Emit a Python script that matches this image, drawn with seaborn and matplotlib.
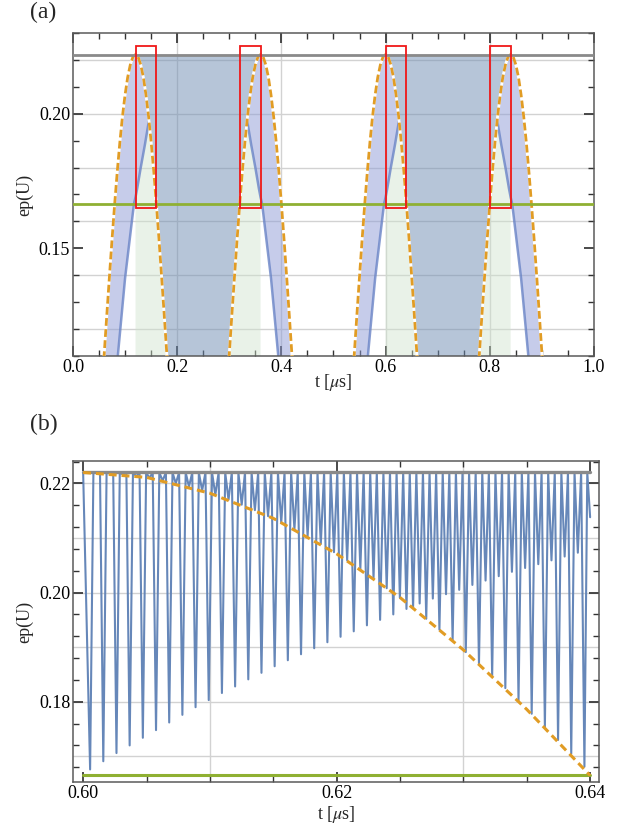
import matplotlib
matplotlib.use("Agg")
import matplotlib.pyplot as plt
from matplotlib.patches import Rectangle
from matplotlib.ticker import MultipleLocator, FormatStrFormatter
import seaborn as sns

# --- levels ---
EP_MAX = 0.222      # gray line
EP_MIN = 0.1665     # green line

# orange dashed arch: half profile, offset from the arch top (same shape for every arch)
arch_dt = [0.000, 0.005, 0.010, 0.015, 0.020, 0.025, 0.030, 0.035, 0.040, 0.045, 0.050, 0.055, 0.060, 0.065]
arch_ep = [0.2220, 0.2211, 0.2182, 0.2136, 0.2071, 0.1991, 0.1895, 0.1786, 0.1665, 0.1535, 0.1397, 0.1255, 0.1110, 0.0965]
arch_tops = [0.12, 0.36, 0.60, 0.84]
arch_side = [1, -1, 1, -1]          # -1: blue envelope mirrored (falling side)

# blue envelope of panel (a), rising into an arch (offset from the arch top)
rise_dt = [-0.040, -0.034, -0.020, -0.003, 0.000, 0.003, 0.010, 0.018, 0.0258]
rise_ep = [0.0990, 0.1100, 0.1390, 0.1665, 0.1690, 0.1720, 0.1800, 0.1885, 0.1975]

green_bands = [(0.12, 0.36), (0.60, 0.84)]
box_t0 = [0.12, 0.32, 0.60, 0.80]
box_w = 0.04
box_ep = (0.1650, 0.2250)

# panel (b): the two families of minima of the fast oscillation
osc_a_t = [0.60055, 0.60159, 0.60263, 0.60367, 0.60471, 0.60575, 0.60679, 0.60783, 0.60887, 0.60991,
           0.61095, 0.61199, 0.61303, 0.61407, 0.61511, 0.61615, 0.61719, 0.61823, 0.61927, 0.62031,
           0.62135, 0.62239, 0.62343, 0.62447, 0.62551, 0.62655, 0.62759, 0.62863, 0.62967, 0.63071,
           0.63175, 0.63279, 0.63383, 0.63487, 0.63591, 0.63695, 0.63799, 0.63903]
osc_a_ep = [0.1676, 0.1691, 0.1706, 0.1720, 0.1734, 0.1748, 0.1762, 0.1776, 0.1790, 0.1803,
            0.1816, 0.1828, 0.1841, 0.1853, 0.1865, 0.1876, 0.1887, 0.1898, 0.1909, 0.1919,
            0.1929, 0.1940, 0.1950, 0.1960, 0.1970, 0.1980, 0.1989, 0.1997, 0.2005, 0.2014,
            0.2022, 0.2030, 0.2038, 0.2045, 0.2052, 0.2059, 0.2066, 0.2073]
osc_b_t = [0.60107, 0.60211, 0.60315, 0.60419, 0.60523, 0.60627, 0.60731, 0.60835, 0.60939, 0.61043,
           0.61147, 0.61251, 0.61355, 0.61459, 0.61563, 0.61667, 0.61771, 0.61875, 0.61979, 0.62083,
           0.62187, 0.62291, 0.62395, 0.62499, 0.62603, 0.62707, 0.62811, 0.62915, 0.63019, 0.63123,
           0.63227, 0.63331, 0.63435, 0.63539, 0.63643, 0.63747, 0.63851, 0.63955]
osc_b_ep = [0.2220, 0.2218, 0.2216, 0.2213, 0.2210, 0.2205, 0.2200, 0.2194, 0.2187, 0.2179,
            0.2170, 0.2161, 0.2151, 0.2140, 0.2128, 0.2116, 0.2103, 0.2089, 0.2074, 0.2059,
            0.2043, 0.2026, 0.2008, 0.1990, 0.1972, 0.1952, 0.1932, 0.1912, 0.1891, 0.1869,
            0.1847, 0.1825, 0.1802, 0.1778, 0.1754, 0.1730, 0.1705, 0.1681]
osc_start = (0.600, 0.2220)
osc_end = (0.640, 0.2138)

# --- colours (Mathematica default palette) ---
BLUE, ORANGE, GREEN = "#5e81b5", "#e19c24", "#8fb032"
GRAY, GRID, FRAME = "#8a8a8a", "#d2d2d2", "#5a5a5a"
LAVENDER, STEEL, MINT = "#8e9bd6", "#6f8db3", "#cfe3cc"
FS = 13

sns.set_theme(style="ticks")
plt.rcParams.update({
    "font.family": ["Liberation Serif", "DejaVu Serif"], "mathtext.fontset": "stix",
    "font.size": FS, "axes.edgecolor": FRAME, "axes.linewidth": 1.1,
    "xtick.direction": "in", "ytick.direction": "in", "xtick.top": True, "ytick.right": True,
    "xtick.major.size": 7, "ytick.major.size": 7, "xtick.minor.size": 4, "ytick.minor.size": 4,
    "xtick.major.pad": 2.5, "ytick.major.pad": 2.0,
    "xtick.color": "#333333", "ytick.color": "#333333", "xtick.labelcolor": "black",
    "ytick.labelcolor": "black", "xtick.labelsize": FS, "ytick.labelsize": FS,
})

full_dt = [-d for d in arch_dt[:0:-1]] + arch_dt
full_ep = arch_ep[:0:-1] + arch_ep


def orange_part(c, s, lo, hi):
    sel = [(d, e) for d, e in zip(full_dt, full_ep) if lo - 1e-9 <= d <= hi + 1e-9]
    return [c + s * d for d, _ in sel], [e for _, e in sel]


def rise_part(c, s, lo=-1.0):
    sel = [(d, e) for d, e in zip(rise_dt, rise_ep) if d >= lo - 1e-9]
    return [c + s * d for d, _ in sel], [e for _, e in sel]


def frame(ax, xlim, ylim, grid_t, grid_ep):
    ax.set_xlim(*xlim); ax.set_ylim(*ylim)
    for g in grid_t:
        ax.axvline(g, color=GRID, lw=1.0, zorder=0)
    for g in grid_ep:
        ax.axhline(g, color=GRID, lw=1.0, zorder=0)
    ax.set_ylabel("ep(U)", fontsize=FS)
    ax.set_xlabel(r"t [$\mu$s]", fontsize=FS)
    for sp in ax.spines.values():
        sp.set_visible(True)


fig = plt.figure(figsize=(6.32, 8.30), dpi=100)
ax_a = fig.add_axes([73 / 632, 1 - 356 / 830, 521 / 632, 323 / 830])
ax_b = fig.add_axes([73 / 632, 1 - 782 / 830, 526 / 632, 321 / 830])

# ---------------- panel (a) ----------------
frame(ax_a, (0.0, 1.0), (0.11, 0.23), [0.2, 0.4, 0.6, 0.8], [0.12, 0.14, 0.16, 0.18, 0.20, 0.22])

# lavender: between the blue envelope and the arch above it
for c, s in zip(arch_tops, arch_side):
    ot, oe = orange_part(c, s, -0.065, 0.025)
    bt, be = rise_part(c, s)
    ax_a.fill(ot + bt[::-1], oe + be[::-1], color=LAVENDER, alpha=0.5, lw=0, zorder=1)

for c1, c2 in green_bands:
    o1t, o1e = orange_part(c1, 1, 0.0, 0.065)
    o2t, o2e = orange_part(c2, -1, 0.0, 0.065)
    # steel: above the arches up to the gray level, between two arch tops
    ax_a.fill(o2t + o1t[::-1], o2e + o1e[::-1], color=STEEL, alpha=0.5, lw=0, zorder=1)

    # mint: below the blue envelope and the arches
    r1t, r1e = rise_part(c1, 1, 0.0)
    r2t, r2e = rise_part(c2, -1, 0.0)
    f1t, f1e = orange_part(c1, 1, 0.030, 0.065)
    f2t, f2e = orange_part(c2, -1, 0.030, 0.065)
    ax_a.fill([c1] + r1t + f1t + f2t[::-1] + r2t[::-1] + [c2],
              [0.09] + r1e + f1e + f2e[::-1] + r2e[::-1] + [0.09],
              color=MINT, alpha=0.45, lw=0, zorder=1)

for c, s in zip(arch_tops, arch_side):
    bt, be = rise_part(c, s)
    sns.lineplot(x=bt, y=be, sort=False, estimator=None, color="#6a84c6", lw=1.8, alpha=0.8,
                 ax=ax_a, zorder=2)

for c in arch_tops:
    ot, oe = orange_part(c, 1, -0.065, 0.065)
    sns.lineplot(x=ot, y=oe, sort=False, estimator=None, color="white", lw=2.0, ax=ax_a, zorder=3)
    sns.lineplot(x=ot, y=oe, sort=False, estimator=None, color=ORANGE, lw=2.0,
                 linestyle=(0, (2.8, 1.2)), ax=ax_a, zorder=3)

sns.lineplot(x=[0.0, 1.0], y=[EP_MAX, EP_MAX], color=GRAY, lw=2.0, ax=ax_a, zorder=4)
sns.lineplot(x=[0.0, 1.0], y=[EP_MIN, EP_MIN], color=GREEN, lw=2.0, ax=ax_a, zorder=4)

for t0 in box_t0:
    ax_a.add_patch(Rectangle((t0, box_ep[0]), box_w, box_ep[1] - box_ep[0], fill=False,
                             ec="#f01818", lw=1.3, zorder=6))

ax_a.xaxis.set_major_locator(MultipleLocator(0.2)); ax_a.xaxis.set_minor_locator(MultipleLocator(0.05))
ax_a.yaxis.set_major_locator(MultipleLocator(0.05)); ax_a.yaxis.set_minor_locator(MultipleLocator(0.01))
ax_a.xaxis.set_major_formatter(FormatStrFormatter("%.1f"))
ax_a.yaxis.set_major_formatter(FormatStrFormatter("%.2f"))
ax_a.yaxis.set_label_coords(-0.077, 0.5)
ax_a.xaxis.set_label_coords(0.5, -0.050)

# ---------------- panel (b) ----------------
frame(ax_b, (0.5992, 0.6407), (0.1653, 0.2241), [0.61, 0.63],
      [0.17, 0.18, 0.19, 0.20, 0.21, 0.22])

troughs = sorted(zip(osc_a_t + osc_b_t, osc_a_ep + osc_b_ep))
osc_t, osc_ep = [osc_start[0]], [osc_start[1]]
for i, (t, e) in enumerate(troughs):
    if i > 0:
        osc_t.append(0.5 * (troughs[i - 1][0] + t)); osc_ep.append(EP_MAX)
    osc_t.append(t); osc_ep.append(e)
osc_t += [0.5 * (troughs[-1][0] + osc_end[0]), osc_end[0]]
osc_ep += [EP_MAX, osc_end[1]]

sns.lineplot(x=[0.60, 0.64], y=[EP_MIN, EP_MIN], color=GREEN, lw=2.2, ax=ax_b, zorder=2)
sns.lineplot(x=osc_t, y=osc_ep, sort=False, estimator=None, color=BLUE, lw=1.5, alpha=0.95,
             ax=ax_b, zorder=3)
sns.lineplot(x=[0.60, 0.64], y=[EP_MAX, EP_MAX], color=GRAY, lw=2.4, ax=ax_b, zorder=4)
ot, oe = orange_part(0.60, 1, 0.0, 0.040)
sns.lineplot(x=ot, y=oe, sort=False, estimator=None, color=ORANGE, lw=2.2,
             linestyle=(0, (2.6, 1.6)), ax=ax_b, zorder=5)

ax_b.xaxis.set_major_locator(MultipleLocator(0.02)); ax_b.xaxis.set_minor_locator(MultipleLocator(0.005))
ax_b.yaxis.set_major_locator(MultipleLocator(0.02)); ax_b.yaxis.set_minor_locator(MultipleLocator(0.004))
ax_b.xaxis.set_major_formatter(FormatStrFormatter("%.2f"))
ax_b.yaxis.set_major_formatter(FormatStrFormatter("%.2f"))
ax_b.yaxis.set_label_coords(-0.076, 0.5)
ax_b.xaxis.set_label_coords(0.5, -0.069)

fig.text(30 / 632, 1 - 12 / 830, "(a)", fontsize=17, ha="left", va="center")
fig.text(30 / 632, 1 - 424 / 830, "(b)", fontsize=17, ha="left", va="center")

fig.savefig("out.png", dpi=100)
